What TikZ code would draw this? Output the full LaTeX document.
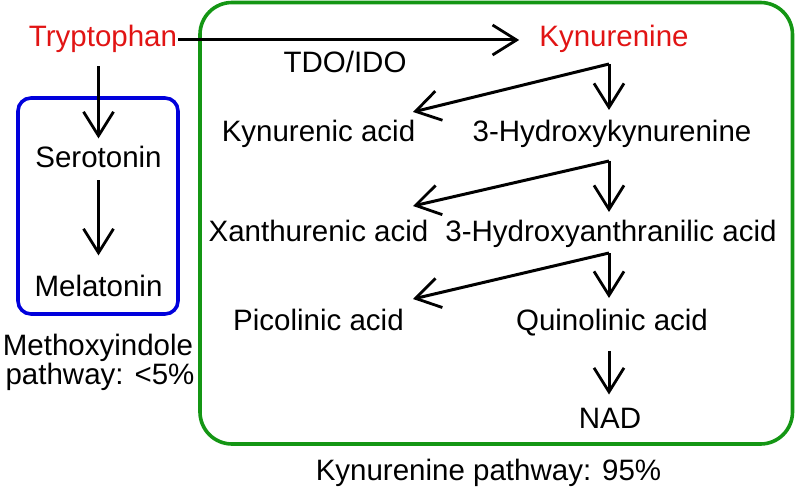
\documentclass[tikz,border=0pt]{standalone}
\usepackage{fontspec}
\setmainfont{Liberation Sans}
\usetikzlibrary{arrows.meta,calc}
\definecolor{tred}{RGB}{225,20,20}
\definecolor{kgreen}{RGB}{20,150,20}
\definecolor{mblue}{RGB}{0,0,220}
\tikzset{
  lbl/.style={inner sep=0pt, anchor=base, font=\fontsize{29.5pt}{35pt}\selectfont},
  redlbl/.style={lbl, text=tred},
  arr/.style={line width=3pt, -{Straight Barb[length=24pt,width=30pt,line width=2.8pt]}},
  boxk/.style={draw=kgreen, line width=3.6pt, rounded corners=32pt},
  boxm/.style={draw=mblue, line width=3.6pt, rounded corners=13pt}
}
\begin{document}
\begin{tikzpicture}[x=1pt,y=-1pt]
\useasboundingbox (0,0) rectangle (796,492);
% boxes
\draw[boxk] (200,2.5) rectangle (792.5,444);
\draw[boxm] (18,98) rectangle (178,314);
% nodes
\node[redlbl] (tryp) at (103,47) {Tryptophan};
\node[redlbl] (kyn) at (614,47) {Kynurenine};
\node[lbl] (tdo) at (345,73) {TDO/IDO};
\node[lbl] (sero) at (98.5,168) {Serotonin};
\node[lbl] (mel) at (98.5,296) {Melatonin};
\node[lbl] (meth1) at (98,355) {Methoxyindole};
\node[lbl] (meth2) at (100,384) {pathway: <5\%};
\node[lbl] (ka) at (318.5,142) {Kynurenic acid};
\node[lbl] (hk) at (612,142) {3-Hydroxykynurenine};
\node[lbl] (xa) at (318.5,242) {Xanthurenic acid};
\node[lbl] (haa) at (611,242) {3-Hydroxyanthranilic acid};
\node[lbl] (pa) at (318.5,330) {Picolinic acid};
\node[lbl] (qa) at (612,330) {Quinolinic acid};
\node[lbl] (nad) at (610,428) {NAD};
\node[lbl] (kp) at (488.5,480) {Kynurenine pathway: 95\%};
% branch points and tips
\coordinate (c1) at (609,64);
\coordinate (t1) at (413,112);
\coordinate (c2) at (609,161);
\coordinate (t2) at (413,206);
\coordinate (c3) at (609,253);
\coordinate (t3) at (413,299);
% connectors
\draw[arr, shorten <=1pt, shorten >=20pt]
  (tryp.east |- 0,40) -- (kyn.west |- 0,40);
\draw[arr, shorten <=13pt, shorten >=8pt] (tryp.south -| sero) -- (sero.north);
\draw[arr, shorten <=12pt, shorten >=19pt] (sero.south) -- (mel.north);
\draw[arr] (c1) -- (c1 |- 0,110);
\draw[arr] (c1) -- (t1);
\draw[arr] (c2) -- (c2 |- 0,212);
\draw[arr] (c2) -- (t2);
\draw[arr] (c3) -- (c3 |- 0,298);
\draw[arr] (c3) -- (t3);
\draw[arr, shorten <=15pt, shorten >=13pt] (qa.south -| c1) -- (nad.north -| c1);
\end{tikzpicture}
\end{document}
